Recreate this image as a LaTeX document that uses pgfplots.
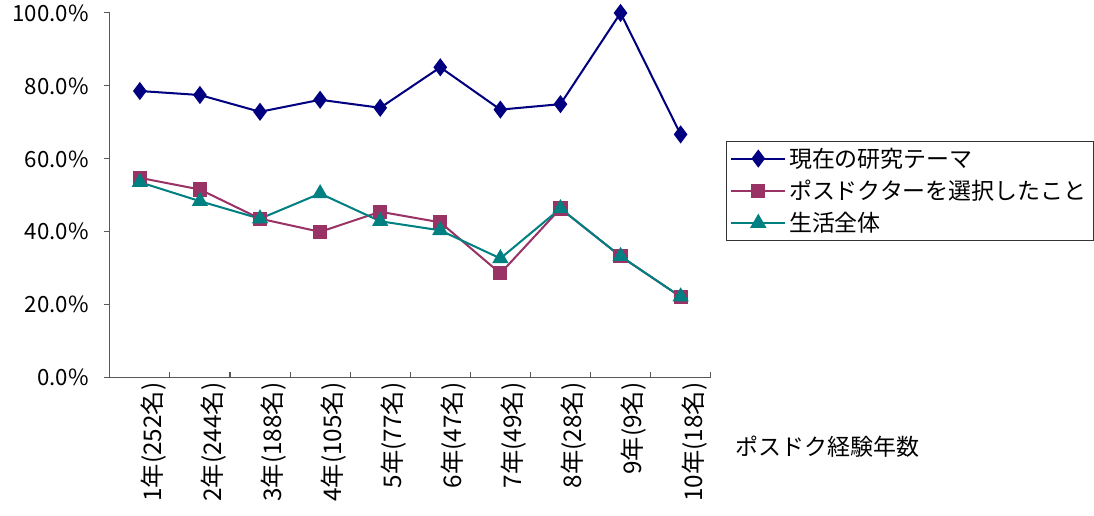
\documentclass[border=0pt]{standalone}
\usepackage{fontspec}
\setmainfont{Noto Sans CJK JP}
\usepackage{pgfplots}
\pgfplotsset{compat=1.18}
\definecolor{navyS}{HTML}{000080}
\definecolor{plumS}{HTML}{993366}
\definecolor{tealS}{HTML}{008080}

\begin{document}
\begin{tikzpicture}
\begin{axis}[
    width=444.75pt, height=270pt, scale only axis,
    xmin=0.5, xmax=10.5, ymin=0, ymax=100,
    axis x line=bottom, axis y line=left,
    axis line style={-, draw=black!65, line width=1pt},
    xtick={1,...,10},
    xticklabels={1年(252名),2年(244名),3年(188名),4年(105名),5年(77名),6年(47名),7年(49名),8年(28名),9年(9名),10年(18名)},
    major x tick style={draw=none},
    minor xtick={0.5,1.5,2.5,3.5,4.5,5.5,6.5,7.5,8.5,9.5,10.5},
    minor x tick style={draw=black!65, line width=0.8pt},
    minor tick length=4pt,
    xtick align=inside,
    ytick={0,20,40,60,80,100},
    ytick align=outside,
    major tick length=4pt,
    y tick style={draw=black!65, line width=0.8pt},
    /pgf/number format/assume math mode=true,
    yticklabel={\pgfmathprintnumber[fixed,fixed zerofill,precision=1]{\tick}\%},
    yticklabel style={xshift=-8pt, font=\fontsize{16.5}{18}\selectfont},
    xticklabel style={rotate=90, anchor=east, yshift=-10pt, font=\fontsize{18}{20}\selectfont},
    xlabel={ポスドク経験年数},
    xlabel style={at={(rel axis cs:1.034,0)}, anchor=west, yshift=-51pt, font=\fontsize{17}{19}\selectfont},
    legend style={at={(1.025,0.65)}, anchor=north west, draw=black!80, line width=0.8pt,
        font=\fontsize{17}{19}\selectfont, row sep=4pt, inner sep=3pt, cells={anchor=west}},
    legend image code/.code={\draw[mark repeat=2,mark phase=2] plot coordinates {(0pt,0pt) (20pt,0pt) (40pt,0pt)};},
]
\addplot[color=navyS, line width=1.5pt, mark=diamond*, mark size=5.5pt, mark options={solid}]
coordinates {(1,78.6) (2,77.5) (3,72.9) (4,76.2) (5,74.0) (6,85.1) (7,73.5) (8,75.0) (9,100) (10,66.7)};
\addlegendentry{現在の研究テーマ}
\addplot[color=plumS, line width=1.5pt, mark=square*, mark size=4.5pt, mark options={solid}]
coordinates {(1,54.8) (2,51.6) (3,43.6) (4,40.0) (5,45.5) (6,42.6) (7,28.6) (8,46.4) (9,33.3) (10,22.2)};
\addlegendentry{ポスドクターを選択したこと}
\addplot[color=tealS, line width=1.5pt, mark=triangle*, mark size=5.5pt, mark options={solid}]
coordinates {(1,53.6) (2,48.4) (3,43.6) (4,50.5) (5,42.9) (6,40.4) (7,32.7) (8,46.4) (9,33.3) (10,22.2)};
\addlegendentry{生活全体}
\end{axis}
% a little white margin at left and bottom, as in the reference
\path ([xshift=-6pt,yshift=-7pt]current bounding box.south west);
\end{tikzpicture}
\end{document}
